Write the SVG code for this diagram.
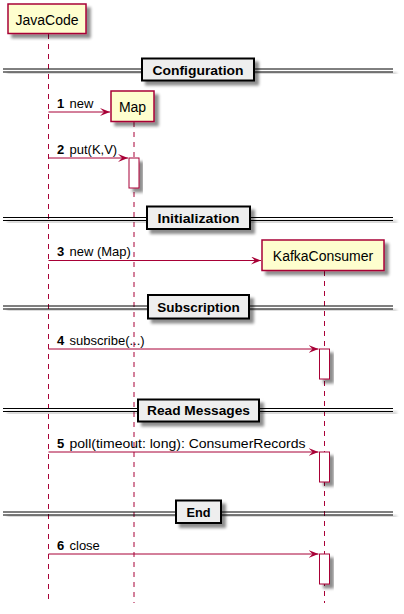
<svg xmlns="http://www.w3.org/2000/svg" width="404" height="614" viewBox="0 0 404 614">
<defs>
<filter id="sh" x="-20%" y="-20%" width="160%" height="180%">
<feGaussianBlur in="SourceAlpha" stdDeviation="1.8" result="b"/>
<feOffset in="b" dx="3.5" dy="3.5" result="o"/>
<feComponentTransfer in="o" result="o2"><feFuncA type="linear" slope="0.45"/></feComponentTransfer>
<feMerge><feMergeNode in="o2"/><feMergeNode in="SourceGraphic"/></feMerge>
</filter>
<marker id="ah" viewBox="0 0 10 8" refX="10" refY="4" markerWidth="10" markerHeight="8" markerUnits="userSpaceOnUse" orient="auto">
<polygon points="0,0 10,4 0,8 4,4" fill="#A80036"/>
</marker>
</defs>
<style>
.part{fill:#FEFECE;stroke:#A80036;stroke-width:1.5;filter:url(#sh)}
.life{stroke:#A80036;stroke-width:1;stroke-dasharray:5,5;fill:none}
.act{fill:#FFFFFF;stroke:#A80036;stroke-width:1;filter:url(#sh)}
.pt{font-family:"Liberation Sans",Arial,sans-serif;font-size:14px;fill:#000;text-anchor:middle}
.mt{font-family:"Liberation Sans",Arial,sans-serif;font-size:13px;fill:#000}
.num{font-weight:bold}
.msg{stroke:#A80036;stroke-width:1;fill:none;marker-end:url(#ah)}
.dl{stroke:#000;stroke-width:1;fill:none}
.db{fill:#EEEEEE;stroke:#000;stroke-width:2;filter:url(#sh)}
.dt{font-family:"Liberation Sans",Arial,sans-serif;font-size:13px;font-weight:bold;fill:#000;text-anchor:middle}
</style>
<rect width="404" height="614" fill="#FFFFFF"/>

<g id="lifelines">
<line class="life" x1="48.5" y1="34" x2="48.5" y2="603"/>
<line class="life" x1="134" y1="122" x2="134" y2="603"/>
<line class="life" x1="324.5" y1="271" x2="324.5" y2="603"/>
</g>

<g id="divider-configuration">
<g filter="url(#sh)"><line class="dl" x1="3" y1="69" x2="393" y2="69"/><line class="dl" x1="3" y1="72" x2="393" y2="72"/></g>
<rect class="db" x="142" y="58.5" width="112" height="22"/>
<text class="dt" x="198" y="75" textLength="91" lengthAdjust="spacingAndGlyphs">Configuration</text>
</g>

<g id="divider-initialization">
<g filter="url(#sh)"><line class="dl" x1="3" y1="217.5" x2="393" y2="217.5"/><line class="dl" x1="3" y1="220.5" x2="393" y2="220.5"/></g>
<rect class="db" x="147" y="206.5" width="103" height="22.5"/>
<text class="dt" x="198.5" y="223" textLength="82" lengthAdjust="spacingAndGlyphs">Initialization</text>
</g>

<g id="divider-subscription">
<g filter="url(#sh)"><line class="dl" x1="3" y1="306" x2="393" y2="306"/><line class="dl" x1="3" y1="309" x2="393" y2="309"/></g>
<rect class="db" x="148" y="295" width="101" height="23.5"/>
<text class="dt" x="198.5" y="311.5" textLength="82.5" lengthAdjust="spacingAndGlyphs">Subscription</text>
</g>

<g id="divider-read-messages">
<g filter="url(#sh)"><line class="dl" x1="3" y1="408.5" x2="393" y2="408.5"/><line class="dl" x1="3" y1="411.5" x2="393" y2="411.5"/></g>
<rect class="db" x="138" y="399.5" width="121" height="22"/>
<text class="dt" x="198.5" y="415" textLength="103" lengthAdjust="spacingAndGlyphs">Read Messages</text>
</g>

<g id="divider-end">
<g filter="url(#sh)"><line class="dl" x1="3" y1="512" x2="393" y2="512"/><line class="dl" x1="3" y1="515" x2="393" y2="515"/></g>
<rect class="db" x="176" y="500.5" width="45" height="22.5"/>
<text class="dt" x="198.5" y="517" textLength="24" lengthAdjust="spacingAndGlyphs">End</text>
</g>

<g id="JavaCode">
<rect class="part" x="8" y="4" width="78" height="29.5"/>
<text class="pt" x="47" y="25">JavaCode</text>
</g>

<g id="Map">
<rect class="part" x="111" y="91" width="43" height="30.5"/>
<text class="pt" x="132.5" y="112">Map</text>
<rect class="act" x="129" y="158" width="10" height="30"/>
</g>

<g id="KafkaConsumer">
<rect class="part" x="262" y="240" width="122" height="30.5"/>
<text class="pt" x="323" y="261">KafkaConsumer</text>
<rect class="act" x="319.5" y="349" width="10" height="30"/>
<rect class="act" x="319.5" y="452" width="10" height="30"/>
<rect class="act" x="319.5" y="554" width="10" height="30"/>
</g>

<g id="connectors">
<line class="msg" x1="48.5" y1="112" x2="110" y2="112"/>
<text class="mt" y="107.5"><tspan class="num" x="57">1</tspan><tspan x="69.5">new</tspan></text>
<line class="msg" x1="48.5" y1="158" x2="128" y2="158"/>
<text class="mt" y="153.5"><tspan class="num" x="57">2</tspan><tspan x="69.5">put(K,V)</tspan></text>
<line class="msg" x1="48.5" y1="260.5" x2="261" y2="260.5"/>
<text class="mt" y="256"><tspan class="num" x="57">3</tspan><tspan x="69.5">new (Map)</tspan></text>
<line class="msg" x1="48.5" y1="349" x2="318.5" y2="349"/>
<text class="mt" y="344.5"><tspan class="num" x="57">4</tspan><tspan x="69.5">subscribe(...)</tspan></text>
<line class="msg" x1="48.5" y1="452" x2="318.5" y2="452"/>
<text class="mt" y="447.5"><tspan class="num" x="57">5</tspan><tspan x="69.5" textLength="236" lengthAdjust="spacingAndGlyphs">poll(timeout: long): ConsumerRecords</tspan></text>
<line class="msg" x1="48.5" y1="554" x2="318.5" y2="554"/>
<text class="mt" y="549.5"><tspan class="num" x="57">6</tspan><tspan x="69.5">close</tspan></text>
</g>
</svg>
